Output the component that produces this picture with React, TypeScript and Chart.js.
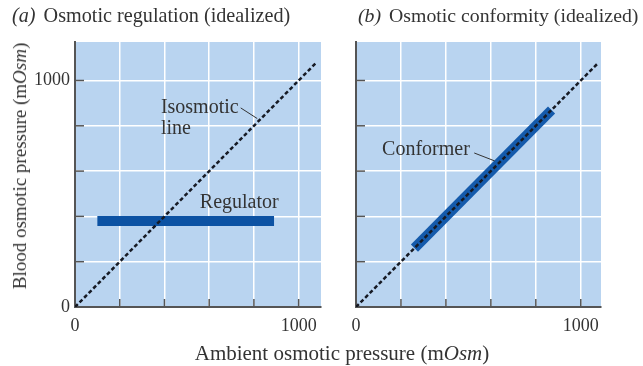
import React, { useEffect, useRef } from "react";
import { Chart, registerables } from "chart.js";

Chart.register(...registerables);

// ---- data ----
const GRID_TICKS = [0, 200, 400, 600, 800, 1000];
const LABELED_TICKS = [0, 1000];

const ISO_A_X = [0, 1080];
const ISO_A_Y = [0, 1080];
const REG_X = [100, 890];
const REG_Y = [380, 380];

const ISO_B_X = [0, 1075];
const ISO_B_Y = [0, 1075];
const CONF_X = [260, 870];
const CONF_Y = [260, 870];

const FONT = '"Liberation Serif", "Times New Roman", serif';
const BG = "#b9d4f0";
const AXIS = "#555555";
const TEXT = "#333333";

type Note = {
  lines: string[];
  x: number;
  y: number;
  leader?: [number, number, number, number];
};

const NOTES_A: Note[] = [
  { lines: ["Isosmotic", "line"], x: 384, y: 879, leader: [741, 879, 815, 832] },
  { lines: ["Regulator"], x: 558, y: 459 },
];
const NOTES_B: Note[] = [
  { lines: ["Conformer"], x: 116, y: 693, leader: [526, 680, 617, 645] },
];

const toPts = (xs: number[], ys: number[]) => xs.map((x, i) => ({ x, y: ys[i] }));

function panelPlugin(notes: Note[]) {
  return {
    id: "panelDeco",
    beforeDraw(chart: any) {
      const { ctx, chartArea: a } = chart;
      ctx.save();
      ctx.fillStyle = BG;
      ctx.fillRect(a.left, a.top, a.right - a.left, a.bottom - a.top);
      ctx.restore();
    },
    afterDraw(chart: any) {
      const { ctx, chartArea: a } = chart;
      const xs = chart.scales.x;
      const ys = chart.scales.y;
      ctx.save();
      // inner tick marks
      ctx.strokeStyle = AXIS;
      ctx.lineWidth = 1.5;
      GRID_TICKS.forEach((v) => {
        if (v === 0) return;
        const px = xs.getPixelForValue(v);
        ctx.beginPath();
        ctx.moveTo(px, a.bottom);
        ctx.lineTo(px, a.bottom - 8);
        ctx.stroke();
        const py = ys.getPixelForValue(v);
        ctx.beginPath();
        ctx.moveTo(a.left, py);
        ctx.lineTo(a.left + 9, py);
        ctx.stroke();
      });
      // notes
      ctx.fillStyle = TEXT;
      ctx.font = `20px ${FONT}`;
      ctx.textBaseline = "middle";
      ctx.textAlign = "left";
      notes.forEach((n) => {
        const px = xs.getPixelForValue(n.x);
        const py = ys.getPixelForValue(n.y);
        n.lines.forEach((l, i) => ctx.fillText(l, px, py + i * 21));
        if (n.leader) {
          const [x1, y1, x2, y2] = n.leader;
          ctx.strokeStyle = TEXT;
          ctx.lineWidth = 1;
          ctx.beginPath();
          ctx.moveTo(xs.getPixelForValue(x1), ys.getPixelForValue(y1));
          ctx.lineTo(xs.getPixelForValue(x2), ys.getPixelForValue(y2));
          ctx.stroke();
        }
      });
      ctx.restore();
    },
  };
}

type PanelProps = {
  left: number;
  width: number;
  yWidth: number;
  padRight: number;
  xMax: number;
  yLabels: boolean;
  datasets: any[];
  notes: Note[];
};

function Panel(p: PanelProps) {
  const ref = useRef<HTMLCanvasElement | null>(null);
  useEffect(() => {
    if (!ref.current) return;
    const tickCb = (show: boolean) => (v: any) =>
      show && LABELED_TICKS.includes(Math.round(Number(v))) ? String(Math.round(Number(v))) : "";
    const setTicks = (s: any) => {
      s.ticks = GRID_TICKS.map((v) => ({ value: v }));
    };
    const chart = new Chart(ref.current, {
      type: "scatter",
      data: { datasets: p.datasets },
      options: {
        animation: false,
        responsive: false,
        layout: { padding: { top: 42, right: p.padRight, left: 0, bottom: 0 } },
        plugins: { legend: { display: false }, tooltip: { enabled: false } },
        elements: { point: { radius: 0 } },
        scales: {
          x: {
            type: "linear",
            min: 0,
            max: p.xMax,
            afterBuildTicks: setTicks,
            grid: { color: "#ffffff", lineWidth: 1.5, drawTicks: false },
            border: { color: AXIS, width: 2 },
            ticks: {
              autoSkip: false,
              maxRotation: 0,
              padding: 8,
              color: TEXT,
              font: { family: FONT, size: 18 },
              callback: tickCb(true),
            },
            afterFit: (s: any) => {
              s.height = 59;
            },
          },
          y: {
            type: "linear",
            min: 0,
            max: 1170,
            afterBuildTicks: setTicks,
            grid: { color: "#ffffff", lineWidth: 1.5, drawTicks: false },
            border: { color: AXIS, width: 2 },
            ticks: {
              autoSkip: false,
              padding: 5,
              color: TEXT,
              font: { family: FONT, size: 18 },
              callback: tickCb(p.yLabels),
            },
            afterFit: (s: any) => {
              s.width = p.yWidth;
            },
          },
        },
      } as any,
      plugins: [panelPlugin(p.notes)],
    });
    return () => chart.destroy();
  }, []);
  return (
    <canvas
      ref={ref}
      width={p.width}
      height={366}
      style={{ position: "absolute", left: p.left, top: 0, width: p.width, height: 366 }}
    />
  );
}

const isoStyle = {
  showLine: true,
  borderColor: "#161a24",
  borderWidth: 2.5,
  borderDash: [4, 2.5],
  pointRadius: 0,
  order: 0,
};

export default function App() {
  const dsA = [
    { label: "Isosmotic line", data: toPts(ISO_A_X, ISO_A_Y), ...isoStyle },
    {
      label: "Regulator",
      data: toPts(REG_X, REG_Y),
      showLine: true,
      borderColor: "#0c52a3",
      borderWidth: 10,
      borderCapStyle: "butt",
      pointRadius: 0,
      order: 1,
    },
  ];
  const dsB = [
    { label: "Isosmotic line", data: toPts(ISO_B_X, ISO_B_Y), ...isoStyle },
    {
      label: "Conformer",
      data: toPts(CONF_X, CONF_Y),
      showLine: true,
      borderColor: "#145aab",
      borderWidth: 10,
      borderCapStyle: "butt",
      pointRadius: 0,
      order: 1,
    },
  ];
  const txt: React.CSSProperties = {
    position: "absolute",
    fontFamily: FONT,
    color: TEXT,
    whiteSpace: "nowrap",
    lineHeight: "22px",
  };
  return (
    <div
      style={{
        position: "absolute",
        left: 0,
        top: 0,
        width: 643,
        height: 366,
        background: "#ffffff",
        overflow: "hidden",
      }}
    >
      <Panel left={0} width={330} yWidth={75} padRight={9} xMax={1100} yLabels={true} datasets={dsA} notes={NOTES_A} />
      <Panel left={330} width={313} yWidth={26} padRight={42} xMax={1090} yLabels={false} datasets={dsB} notes={NOTES_B} />
      <div style={{ ...txt, fontSize: 20.2, left: 12, top: 4 }}>
        <i style={{ marginRight: 3 }}>(a)</i> Osmotic regulation (idealized)
      </div>
      <div style={{ ...txt, fontSize: 19.8, left: 358, top: 4 }}>
        <i style={{ marginRight: 3 }}>(b)</i> Osmotic conformity (idealized)
      </div>
      <div
        style={{
          ...txt,
          fontSize: 19,
          left: 20,
          top: 166,
          transform: "translate(-50%, -50%) rotate(-90deg)",
        }}
      >
        Blood osmotic pressure (m<i>Osm</i>)
      </div>
      <div style={{ ...txt, fontSize: 21, left: 342, top: 353, transform: "translate(-50%, -50%)" }}>
        Ambient osmotic pressure (m<i>Osm</i>)
      </div>
    </div>
  );
}
